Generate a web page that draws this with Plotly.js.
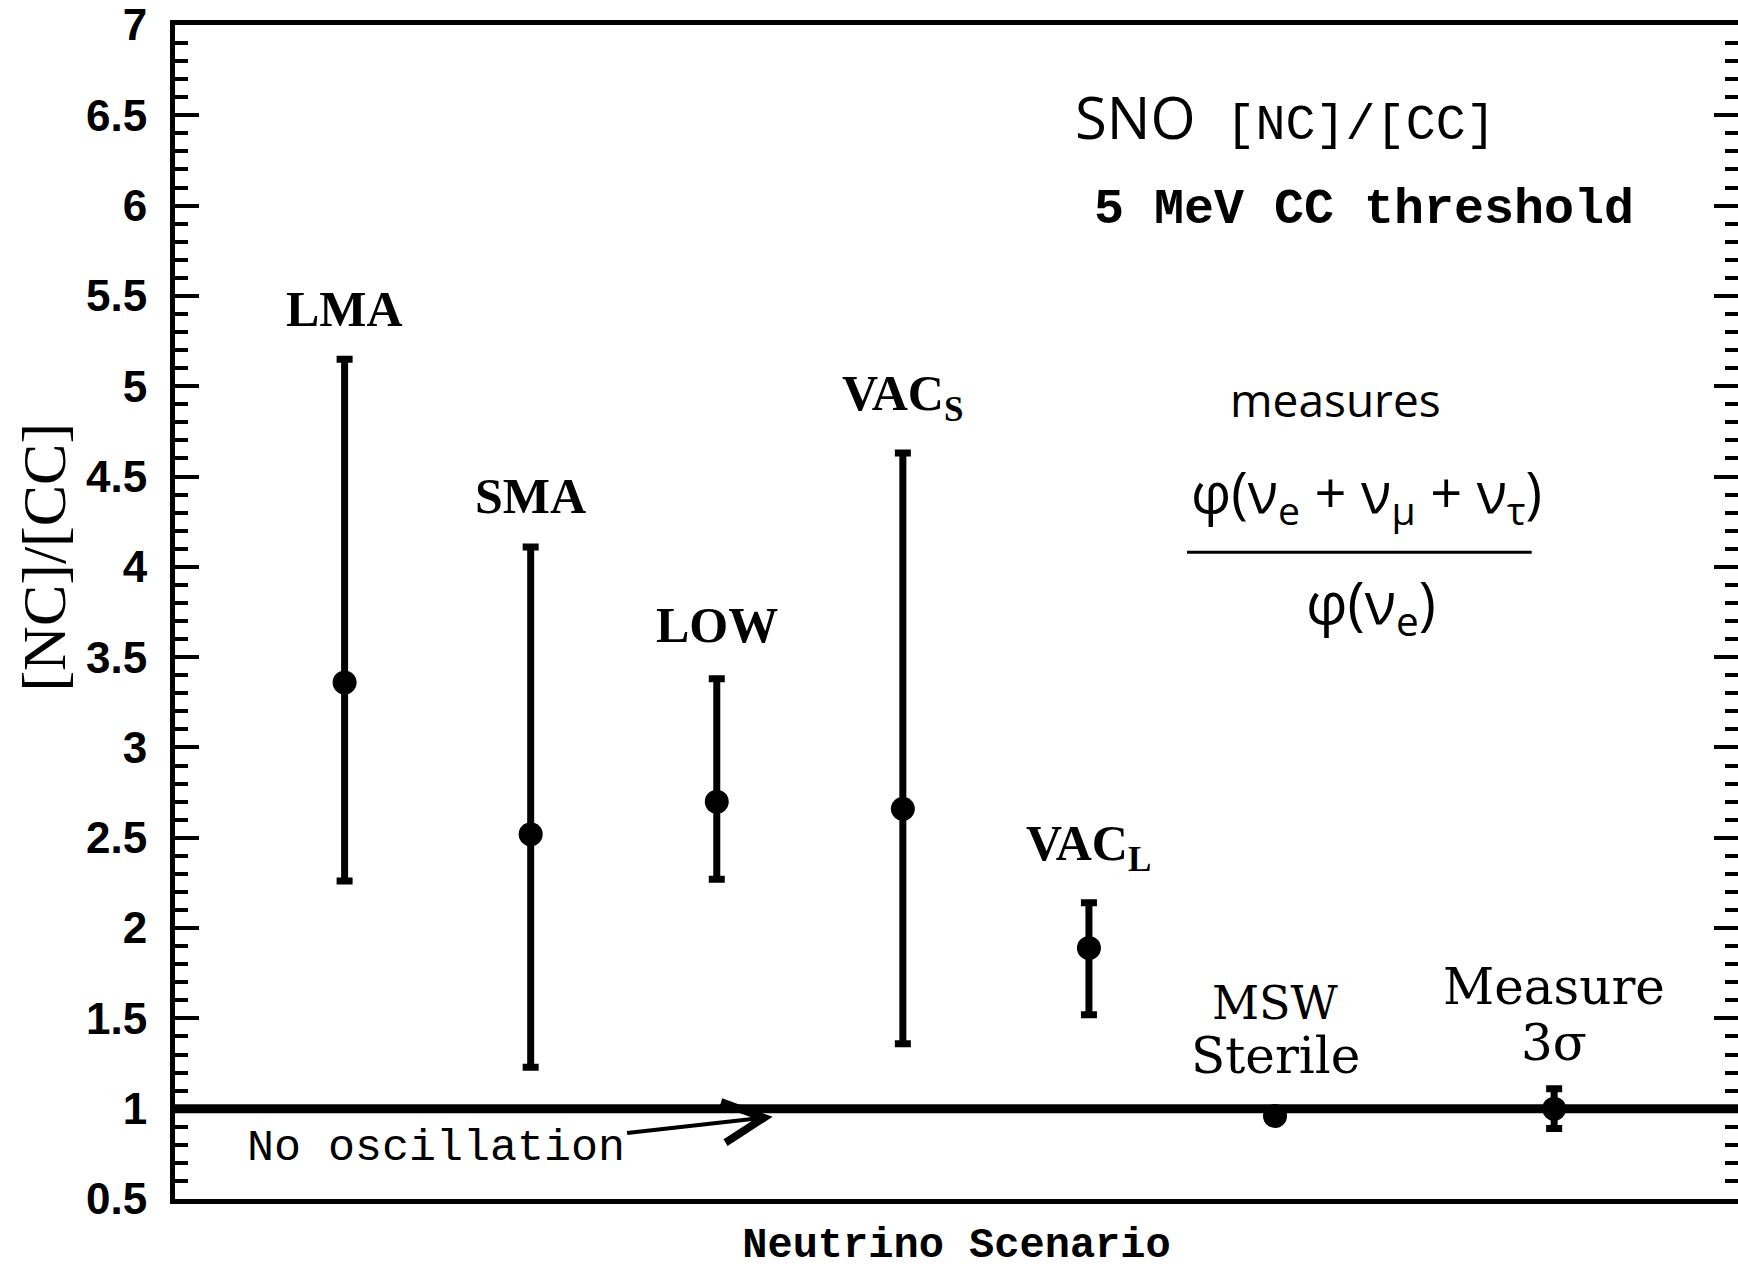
<!DOCTYPE html>
<html>
<head>
<meta charset="utf-8">
<script src="https://cdn.plot.ly/plotly-3.0.1.min.js"></script>
<style>
html,body{margin:0;padding:0;background:#ffffff;}
#chart{width:1738px;height:1270px;}
</style>
</head>
<body>
<div id="chart"></div>
<script>
// ---- data ----
const scenarioLabels = ['LMA', 'SMA', 'LOW', 'VAC<sub>S</sub>', 'VAC<sub>L</sub>', 'MSW<br>Sterile', 'Measure<br>3σ'];
const scenarioIndex = [1, 2, 3, 4, 5, 6, 7.5];
const ncccRatio = [3.36, 2.52, 2.70, 2.66, 1.89, 0.96, 1.00];
const errUp = [1.79, 1.59, 0.68, 1.97, 0.25, 0, 0.11];
const errDown = [1.10, 1.29, 0.43, 1.30, 0.37, 0, 0.11];
const noOscillationRatio = 1;
const yTickValues = [0.5, 1, 1.5, 2, 2.5, 3, 3.5, 4, 4.5, 5, 5.5, 6, 6.5, 7];
const yTickLabels = ['0.5', '1', '1.5', '2', '2.5', '3', '3.5', '4', '4.5', '5', '5.5', '6', '6.5', '7'];

// ---- styling ----
const labelFont = {family: 'Liberation Serif, serif', size: 50, color: '#000', weight: 'bold'};
const monoBold = {family: 'Liberation Mono, monospace', size: 50, color: '#000', weight: 'bold'};
const handFont = {family: 'Open Sans, sans-serif', size: 46, color: '#000'};

const trace = {
  type: 'scatter',
  mode: 'markers',
  x: scenarioIndex,
  y: ncccRatio,
  marker: {size: 24, color: '#000'},
  error_y: {
    type: 'data', symmetric: false,
    array: errUp, arrayminus: errDown,
    color: '#000', thickness: 7, width: 8
  },
  cliponaxis: false,
  hoverinfo: 'skip'
};

const annotations = [];
const labelShift = [20, 21, 24, 22, 22];
for (let i = 0; i < 5; i++) {
  annotations.push({
    x: scenarioIndex[i], y: ncccRatio[i] + errUp[i], xref: 'x', yref: 'y',
    text: scenarioLabels[i], showarrow: false, yanchor: 'bottom', xanchor: 'center',
    yshift: labelShift[i], font: labelFont
  });
}
// two-line labels: one annotation per line for a tighter line spacing
const twoLineShift = {5: [113, 60], 6: [102, 46]};
const twoLineSize = {5: [46, 50], 6: [50, 50]};
[5, 6].forEach(function (i) {
  const lines = scenarioLabels[i].split('<br>');
  lines.forEach(function (line, k) {
    annotations.push({
      x: scenarioIndex[i], y: ncccRatio[i] + errUp[i], xref: 'x', yref: 'y',
      text: line, showarrow: false, yanchor: 'middle', xanchor: 'center',
      yshift: twoLineShift[i][k],
      font: {family: 'DejaVu Serif, serif', size: twoLineSize[i][k], color: '#000'}
    });
  });
});
// No oscillation text + arrow
annotations.push({
  x: 1.49, y: 0.78, xref: 'x', yref: 'y', text: 'No oscillation', showarrow: false,
  xanchor: 'center', yanchor: 'middle',
  font: {family: 'Liberation Mono, monospace', size: 45, color: '#000'}
});
annotations.push({
  x: 3.30, y: 0.955, xref: 'x', yref: 'y', ax: 2.51, ay: 0.865, axref: 'x', ayref: 'y',
  text: '', showarrow: true, arrowhead: 5, arrowsize: 2, arrowwidth: 4, arrowcolor: '#000'
});
// headline texts
annotations.push({
  x: 0.5745, y: 0.922, xref: 'paper', yref: 'paper', xanchor: 'left', yanchor: 'middle',
  text: '<span style="font-family:Open Sans;font-size:58px">SNO</span> [NC]/[CC]',
  showarrow: false, font: {family: 'Liberation Mono, monospace', size: 50, color: '#000'}
});
annotations.push({
  x: 0.5867, y: 0.843, xref: 'paper', yref: 'paper', xanchor: 'left', yanchor: 'middle',
  text: '5 MeV CC threshold', showarrow: false, font: monoBold
});
annotations.push({
  x: 0.6737, y: 0.6814, xref: 'paper', yref: 'paper', xanchor: 'left', yanchor: 'middle',
  text: 'measures', showarrow: false, font: handFont
});
annotations.push({
  x: 0.7626, y: 0.600, xref: 'paper', yref: 'paper', xanchor: 'center', yanchor: 'middle',
  text: 'φ(ν<sub>e</sub> + ν<sub>μ</sub> + ν<sub>τ</sub>)', showarrow: false,
  font: {family: 'Open Sans, sans-serif', size: 56, color: '#000'}
});
annotations.push({
  x: 0.7652, y: 0.506, xref: 'paper', yref: 'paper', xanchor: 'center', yanchor: 'middle',
  text: 'φ(ν<sub>e</sub>)', showarrow: false,
  font: {family: 'Open Sans, sans-serif', size: 58, color: '#000'}
});
// y-axis title (placed as a rotated annotation to match the reference position)
annotations.push({
  x: -0.084, y: 0.547, xref: 'paper', yref: 'paper', xanchor: 'center', yanchor: 'middle',
  text: '[NC]/[CC]', textangle: -90, showarrow: false,
  font: {family: 'Liberation Serif, serif', size: 62, color: '#000'}
});

const shapes = [
  {type: 'line', xref: 'paper', x0: 0, x1: 1, yref: 'y', y0: noOscillationRatio, y1: noOscillationRatio,
   line: {color: '#000', width: 9}},
  {type: 'line', xref: 'paper', yref: 'paper', x0: 0.6475, x1: 0.868, y0: 0.551, y1: 0.551,
   line: {color: '#000', width: 3}}
];

const layout = {
  width: 1738, height: 1270,
  margin: {l: 175, r: 0, t: 25, b: 71},
  paper_bgcolor: '#fff', plot_bgcolor: '#fff',
  showlegend: false,
  xaxis: {
    range: [0.0886, 8.488], showticklabels: false, ticks: '', showgrid: false, zeroline: false,
    showline: true, linewidth: 5, linecolor: '#000', mirror: true,
    title: {text: 'Neutrino Scenario', standoff: 43,
            font: {family: 'Liberation Mono, monospace', size: 42, color: '#000', weight: 'bold'}}
  },
  yaxis: {
    range: [0.5, 7], tickvals: yTickValues, ticktext: yTickLabels,
    ticks: 'inside', ticklen: 24, tickwidth: 4, tickcolor: '#000',
    minor: {dtick: 0.1, ticks: 'inside', ticklen: 13, tickwidth: 4, tickcolor: '#000', showgrid: false},
    ticklabelstandoff: 14, ticklabeloverflow: 'allow',
    tickfont: {family: 'Liberation Sans, Arial, sans-serif', size: 44, color: '#000', weight: 'bold'},
    showgrid: false, zeroline: false,
    showline: true, linewidth: 5, linecolor: '#000', mirror: 'ticks'
  },
  annotations: annotations,
  shapes: shapes
};

Plotly.newPlot('chart', [trace], layout, {displayModeBar: false, staticPlot: true});
</script>
</body>
</html>
